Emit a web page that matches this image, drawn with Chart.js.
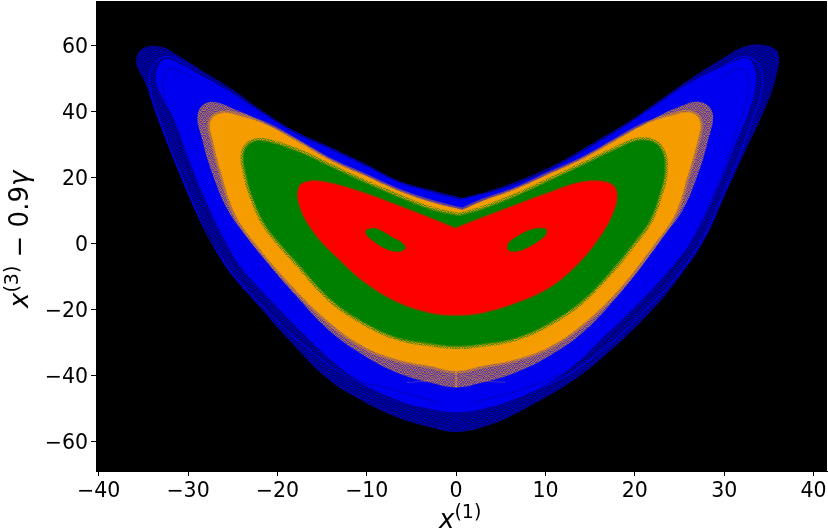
<!DOCTYPE html>
<html>
<head>
<meta charset="utf-8">
<style>
  html, body { margin: 0; background: #fff; }
  canvas { display: block; }
</style>
<script src="https://cdn.jsdelivr.net/npm/chart.js@4"></script>
</head>
<body>
<canvas id="chart" width="828" height="529"></canvas>
<script>
const xTicks = [-40, -30, -20, -10, 0, 10, 20, 30, 40];
const yTicks = [-60, -40, -20, 0, 20, 40, 60];

// outlines, [x, y] in data units
const redEdge = [[-0.1,4.8],[-2.9,7.9],[-6.6,11.8],[-10.3,15.5],[-14.1,18.5],[-16.3,19.1],[-17.6,17.3],[-17.5,11.2],[-15.8,3],[-13.3,-4.2],[-10.3,-11.5],[-6.6,-17.6],[-2.9,-20.9],[0,-21.6],[2.9,-20.9],[6.6,-18],[10.3,-13.5],[13.3,-7],[15.8,1],[17.5,9],[18,15.5],[17,18.6],[14.1,18.8],[10.3,15.5],[6.6,11.8],[2.9,8],[-0.1,4.8]];
const leftHole = [[-10.1,4.2],[-9.2,4.8],[-8.3,3.9],[-7.2,2.1],[-6,0.3],[-5.7,-1.5],[-6.6,-2.4],[-8.1,-1.2],[-9.3,0.9],[-10.1,3],[-10.1,4.2]];
const rightHole = [[10.1,4.6],[9.2,4.8],[8,4],[6.9,2.4],[5.9,0.4],[5.8,-1.8],[6.7,-2.3],[8.1,-1],[9.3,1],[10.1,3],[10.1,4.6]];
const greenEdge = [[0.3,8.4],[-2.9,10.3],[-6.6,14.2],[-10.3,18.5],[-14.1,23.3],[-17.8,27.9],[-20.8,30.6],[-22.6,30.9],[-23.7,27.6],[-23.4,20.3],[-22.6,13.3],[-21.5,6.7],[-20,1.2],[-17.8,-5.5],[-14.1,-16.4],[-10.3,-23.6],[-6.6,-28.2],[-2.9,-30],[0.1,-30.8],[2.9,-30.2],[6.6,-28.4],[10.3,-24],[14.1,-17],[17.8,-6.5],[20,1],[21.6,7],[22.6,14],[23.3,22],[22.8,29],[20.8,31.3],[17.8,28.4],[14.1,23.6],[10.3,18.8],[6.6,14.2],[2.9,10.3],[0.3,8.4]];
const orangeEdge = [[0.7,10.2],[-2.9,12.7],[-6.6,16.2],[-10.3,20.7],[-14.1,25.3],[-17.8,31],[-21,35.8],[-24,38.6],[-26.3,39.6],[-27.5,37],[-27.2,31],[-26.3,21.5],[-24.8,9.4],[-22.6,0.6],[-18.3,-13],[-14.3,-23.5],[-10.4,-31],[-6.6,-35],[-2.9,-37],[0,-38.5],[2.9,-37],[6.6,-35],[10.4,-31.2],[14.3,-24],[18.3,-13.5],[22.2,0],[24.5,9],[26,21.5],[27,31],[27.3,37],[26.2,39.8],[24,38.8],[21,36],[17.8,31.2],[14.1,25.6],[10.3,21],[6.6,16.4],[2.9,12.9],[0.7,10.2]];
const orangeFringe = [[0.7,10.4],[-2.9,12.9],[-6.6,16.5],[-10.3,21],[-14.1,25.7],[-17.8,31.6],[-21.5,36.8],[-24.5,40.5],[-27.5,43],[-28.9,39.6],[-28.4,31.5],[-27.3,21.5],[-25.6,10.5],[-23.6,2.7],[-21.2,-5.5],[-18,-15.5],[-14.3,-26],[-10.5,-33.5],[-6.6,-39],[-2.9,-42],[0,-43.5],[2.9,-42],[6.6,-39],[10.5,-33.8],[14.3,-26.5],[18,-16],[21,-6],[23.4,3],[25.4,10.5],[27.1,21.5],[28.2,31.5],[28.7,39.6],[27.3,43],[24.5,41],[21.5,37],[17.8,31.6],[14.1,26],[10.3,21.2],[6.6,16.8],[2.9,13],[0.7,10.4]];
const blueEdge = [[0.4,13.4],[-2.9,15.8],[-6.6,18.8],[-10.3,23.8],[-14.1,28.7],[-17.8,33.2],[-21.5,39.2],[-25.3,46],[-28.2,50.5],[-30.9,54.5],[-32.5,56],[-33.3,54],[-33.6,50],[-33,45],[-31.6,38],[-29.9,25.5],[-27.7,11.2],[-25.9,1.2],[-24,-7.3],[-20.4,-18],[-16.8,-28],[-13.2,-37],[-9.9,-43],[-6.4,-47.5],[-2.9,-50],[0.1,-51],[2.9,-50],[6.4,-47.2],[10,-42.6],[13.1,-37],[16.4,-28.5],[20.4,-18],[23.7,-8.3],[26.5,1.5],[29.1,16],[31.2,30],[32.7,40],[33.5,48],[33.4,53],[32.6,56.2],[30.5,54.5],[26.3,49],[22.8,42.8],[19,35.9],[15.3,29.8],[11.6,24],[8,19.5],[4.1,15.8],[0.4,13.4]];
const haloEdge = [[0.7,13.9],[-2.9,16.4],[-6.6,19.4],[-10.3,24.5],[-14.1,29.4],[-17.8,33.9],[-21.5,40],[-25.3,47.3],[-28.2,52.1],[-30.9,56.7],[-33.1,59.8],[-35.2,59],[-35.8,54.8],[-34.8,48.8],[-33.5,38.5],[-31.6,25.5],[-29.4,11.2],[-27.7,2.7],[-25.7,-7.3],[-21.9,-19.4],[-18.2,-30.6],[-14.5,-40.6],[-10.5,-47.5],[-6.6,-52.5],[-2.9,-55.5],[0.1,-57],[4.1,-54.5],[8,-49.5],[13.3,-41],[17.4,-32],[21.6,-21],[24.9,-10.3],[27.9,1.8],[30.5,17.3],[32.8,30.6],[34.5,40.6],[35.8,50.6],[36,58],[34.4,60.3],[32.1,59.6],[29.6,55.8],[26.5,50.6],[22.8,43.6],[19.1,36.7],[15.3,30.6],[11.6,24.8],[8,20.3],[4.1,16.4],[0.7,13.9]];

// thin streaks inside the blue band
const rightStreak = [[0.5,-50.5],[5.3,-47.3],[10.2,-42.7],[15.3,-34.5],[21.4,-19.4],[26.5,-3.3],[30.1,16.4],[33.3,38.5],[34.3,48.8],[33.7,54.8],[32.1,56.8],[29.6,53.3]];
const leftStreak = [[-0.5,-50.5],[-5.3,-47.5],[-10.2,-42.8],[-15.3,-34.5],[-21.4,-19.6],[-26.5,-3.5],[-30.1,16.4],[-33.3,38.5],[-34.3,48.8],[-33.7,54.8],[-32.1,56.8],[-29.6,53.3]];
const rightDark = [[2,-48],[8,-43.5],[13.5,-36.5],[19.5,-22.5],[24.5,-7],[28.5,13],[31.6,36],[32.8,48],[32,53],[29.5,50.5]];
const leftDark = [[-2,-48],[-8,-43.5],[-11.9,-40.6],[-16.3,-31.5],[-20.5,-21],[-24.5,-7.5],[-28.5,13],[-31.6,36],[-32.8,48],[-32,53],[-29.5,50.5]];
const stemUp = [[0,-34],[0,-43.5]];
const fanLeft = [[-0.1,-38],[-1,-40],[-3,-41.4],[-5.5,-42]];
const fanRight = [[0.1,-38],[1,-40],[3,-41.4],[5.5,-42]];
const lowLeft = [[0,-51],[-0.5,-54.5],[-1.9,-56.4]];
const lowRight = [[0,-51],[0.5,-54.5],[1.9,-56.4]];

const pts = a => a.map(p => ({ x: p[0], y: p[1] }));

// speckled fill for the loose edges of each band
const ditherRows = ["101100101101", "010011010010", "110100100111", "001011011000", "100101101101", "011010010010", "101001101011", "010110010100", "110010110101", "001101001010", "101011010110", "010100101001"];
function dither(rgb, on, off) {
  const c = document.createElement("canvas");
  c.width = c.height = 12;
  const g = c.getContext("2d");
  ditherRows.forEach((row, j) => {
    [...row].forEach((bit, i) => {
      g.fillStyle = `rgba(${rgb},${bit === "1" ? on : off})`;
      g.fillRect(i, j, 1, 1);
    });
  });
  return g.createPattern(c, "repeat");
}

function area(name, edge, fillColor) {
  return {
    label: name,
    data: pts(edge),
    showLine: true,
    fill: "shape",
    backgroundColor: fillColor,
    borderWidth: 0,
    tension: 0.4,
    pointRadius: 0
  };
}

function streak(name, edge, color, width, dash) {
  return {
    label: name,
    data: pts(edge),
    showLine: true,
    fill: false,
    borderColor: color,
    borderWidth: width,
    borderDash: dash || [],
    tension: 0.4,
    pointRadius: 0
  };
}

// first dataset is drawn on top
const datasets = [
  streak("hole L edge", leftHole, "rgba(110,80,0,0.6)", 1),
  streak("hole R edge", rightHole, "rgba(110,80,0,0.6)", 1),
  area("hole L", leftHole, "#008000"),
  area("hole R", rightHole, "#008000"),
  streak("red edge", redEdge, "rgba(150,60,0,0.7)", 1.5),
  area("red", redEdge, "#ff0000"),
  streak("green soft", greenEdge, "rgba(0,128,0,0.55)", 2.5),
  streak("green rough", greenEdge, dither("0,128,0", 0.7, 0.1), 7),
  area("green", greenEdge, "#008000"),
  area("orange", orangeEdge, "#f59d00"),
  streak("stem", stemUp, "rgba(235,150,30,0.5)", 2),
  streak("fan L", fanLeft, "rgba(220,140,60,0.3)", 1),
  streak("fan R", fanRight, "rgba(220,140,60,0.3)", 1),
  streak("orange rim", orangeEdge, "rgba(245,157,0,0.4)", 5),
  area("orange fringe", orangeFringe, dither("225,145,40", 0.75, 0.4)),
  streak("low L", lowLeft, "rgba(0,0,190,0.6)", 1),
  streak("low R", lowRight, "rgba(0,0,190,0.6)", 1),
  streak("dark L", leftDark, "rgba(0,0,70,0.4)", 1.2, [2, 1]),
  streak("dark R", rightDark, "rgba(0,0,70,0.4)", 1.2, [2, 1]),
  area("blue", blueEdge, "#0000f0"),
  streak("streak L", leftStreak, "rgba(0,0,255,0.9)", 1),
  streak("streak R", rightStreak, "rgba(0,0,255,0.9)", 1),
  area("halo", haloEdge, dither("0,0,225", 0.85, 0.45))
];

const blackPlot = {
  id: "blackPlot",
  beforeDatasetsDraw(chart) {
    const a = chart.chartArea, ctx = chart.ctx;
    ctx.save();
    ctx.fillStyle = "#000";
    ctx.fillRect(a.left, a.top, a.width, a.height);
    ctx.restore();
  }
};

// axis titles have mixed italic and superscript, so they are drawn in parts
function writeParts(ctx, parts) {
  let x = 0;
  parts.forEach(p => {
    ctx.font = p[1];
    ctx.fillText(p[0], x, p[2]);
    x += ctx.measureText(p[0]).width;
  });
}

const mathTitles = {
  id: "mathTitles",
  afterDraw(chart) {
    const ctx = chart.ctx;
    const it = 'italic 26px "DejaVu Sans"', up = '19px "DejaVu Sans"', mid = '26px "DejaVu Sans"';
    ctx.save();
    ctx.fillStyle = "#000";
    ctx.textBaseline = "alphabetic";
    ctx.textAlign = "left";
    ctx.translate(439, 528);
    writeParts(ctx, [["x", it, 0], ["(1)", up, -10]]);
    ctx.setTransform(0, -1, 1, 0, 28, 308);
    writeParts(ctx, [["x", it, 0], ["(3)", up, -10], [" \u2212 0.9", mid, 0], ["\u03b3", it, 0]]);
    ctx.restore();
  }
};

new Chart(document.getElementById("chart"), {
  type: "scatter",
  data: { datasets },
  plugins: [blackPlot, mathTitles],
  options: {
    responsive: false,
    animation: false,
    layout: { padding: { top: 1, right: 1, left: 0, bottom: 0 } },
    plugins: { legend: { display: false }, tooltip: { enabled: false } },
    scales: {
      x: {
        type: "linear",
        min: -40.3,
        max: 41.5,
        afterFit: s => { s.height = 58; s.paddingLeft = 0; s.paddingRight = 0; },
        afterBuildTicks: s => { s.ticks = xTicks.map(v => ({ value: v })); },
        grid: { drawOnChartArea: false, color: "#000", tickLength: 5, tickWidth: 1 },
        border: { color: "#000" },
        ticks: {
          color: "#000",
          padding: 3,
          maxRotation: 0,
          autoSkip: false,
          font: { family: "DejaVu Sans", size: 20.5 },
          callback: v => String(v).replace("-", "\u2212")
        }
      },
      y: {
        type: "linear",
        min: -68.8,
        max: 73.6,
        afterFit: s => { s.width = 96; s.paddingTop = 0; s.paddingBottom = 0; },
        afterBuildTicks: s => { s.ticks = yTicks.map(v => ({ value: v })); },
        grid: { drawOnChartArea: false, color: "#000", tickLength: 5, tickWidth: 1 },
        border: { color: "#000" },
        ticks: {
          color: "#000",
          padding: 3,
          labelOffset: 1.5,
          autoSkip: false,
          font: { family: "DejaVu Sans", size: 20.5 },
          callback: v => String(v).replace("-", "\u2212")
        }
      }
    }
  }
});
</script>
</body>
</html>
